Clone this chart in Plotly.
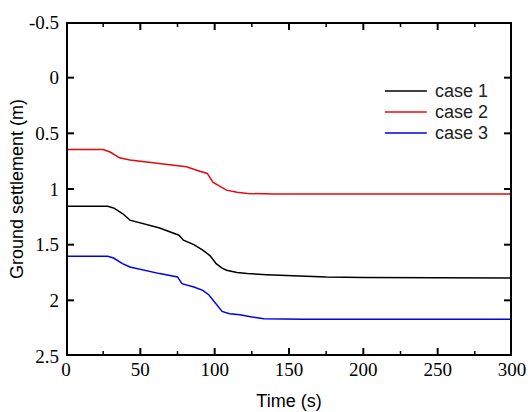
import plotly.graph_objects as go

# Data
time_case1 = [0, 28, 32, 38, 43, 55, 63, 76, 79, 86, 92, 97, 101, 105, 108, 115, 122, 135, 150, 175, 200, 250, 300]
case1 = [1.155, 1.155, 1.17, 1.22, 1.28, 1.32, 1.35, 1.415, 1.46, 1.50, 1.55, 1.60, 1.67, 1.71, 1.73, 1.75, 1.76, 1.77, 1.78, 1.79, 1.795, 1.80, 1.80]

time_case2 = [0, 25, 30, 36, 43, 55, 63, 81, 90, 95, 99, 104, 108, 115, 122, 140, 200, 300]
case2 = [0.645, 0.645, 0.67, 0.72, 0.74, 0.76, 0.77, 0.80, 0.84, 0.86, 0.94, 0.98, 1.01, 1.03, 1.04, 1.045, 1.045, 1.045]

time_case3 = [0, 28, 32, 38, 43, 55, 63, 75, 78, 86, 92, 96, 99, 102, 105, 110, 117, 125, 133, 160, 200, 300]
case3 = [1.605, 1.605, 1.62, 1.67, 1.70, 1.74, 1.76, 1.79, 1.85, 1.88, 1.91, 1.95, 2.00, 2.06, 2.10, 2.12, 2.13, 2.15, 2.165, 2.17, 2.17, 2.17]

series_names = ["case 1", "case 2", "case 3"]
series_colors = ["#000000", "#e8070a", "#0000ee"]

x_range = [0, 300]
y_range = [2.5, -0.5]          # reversed axis, as in the reference
x_ticks = [0, 50, 100, 150, 200, 250, 300]
x_minor_ticks = [25, 75, 125, 175, 225, 275]
y_ticks = [-0.5, 0, 0.5, 1, 1.5, 2, 2.5]
y_tick_labels = ["-0.5", "0", "0.5", "1", "1.5", "2", "2.5"]

# figure geometry
W, H = 528, 412
ML, MR, MT, MB = 66, 16, 22, 56
plot_w, plot_h = W - ML - MR, H - MT - MB
x_per_px = (x_range[1] - x_range[0]) / plot_w
y_per_px = (y_range[0] - y_range[1]) / plot_h

fig = go.Figure()
for t, v, name, col in zip([time_case1, time_case2, time_case3],
                           [case1, case2, case3], series_names, series_colors):
    fig.add_trace(go.Scatter(x=t, y=v, mode="lines", name=name, showlegend=False,
                             line=dict(color=col, width=1.5)))

# Plot frame (drawn along the axis limits; clipped half remains inside)
x0, x1 = x_range
yb, yt = y_range
fig.add_trace(go.Scatter(x=[x0, x1, x1, x0, x0], y=[yt, yt, yb, yb, yt], mode="lines",
                         line=dict(color="#000000", width=4), showlegend=False,
                         hoverinfo="skip"))

# Tick marks on all four sides (inside)
def x_tick_segments(vals, length_px):
    xs, ys = [], []
    d = length_px * y_per_px
    for v in vals:
        xs += [v, v, None, v, v, None]
        ys += [yb, yb - d, None, yt, yt + d, None]
    return xs, ys

def y_tick_segments(vals, length_px):
    xs, ys = [], []
    d = length_px * x_per_px
    for v in vals:
        xs += [x0, x0 + d, None, x1, x1 - d, None]
        ys += [v, v, None, v, v, None]
    return xs, ys

for (xs, ys), w in [(x_tick_segments(x_ticks, 8), 2), (x_tick_segments(x_minor_ticks, 5), 1.5),
                    (y_tick_segments(y_ticks, 8), 2)]:
    fig.add_trace(go.Scatter(x=xs, y=ys, mode="lines", line=dict(color="#000000", width=w),
                             showlegend=False, hoverinfo="skip", connectgaps=False))

fig.update_layout(
    width=W, height=H,
    margin=dict(l=ML, r=MR, t=MT, b=MB, autoexpand=False),
    showlegend=False,
    paper_bgcolor="#ffffff", plot_bgcolor="#ffffff",
    xaxis=dict(range=x_range, tickvals=x_ticks, showline=False, ticks="",
               showgrid=False, zeroline=False, automargin=False,
               tickfont=dict(family="Liberation Serif", size=19, color="#000000"),
               title=dict(text="Time (s)", standoff=15,
                          font=dict(family="Liberation Sans", size=18, color="#000000"))),
    yaxis=dict(range=y_range, tickvals=y_ticks, ticktext=y_tick_labels,
               showline=False, ticks="", ticklabelstandoff=6,
               showgrid=False, zeroline=False, automargin=False,
               tickfont=dict(family="Liberation Serif", size=19, color="#000000"),
               title=dict(text="Ground settlement (m)", standoff=0,
                          font=dict(family="Liberation Sans", size=18, color="#000000"))),
)

# Legend (key lines + text)
legend_rows_y = [0.7934, 0.7305, 0.6677]
for name, col, ly in zip(series_names, series_colors, legend_rows_y):
    fig.add_shape(type="line", xref="paper", yref="paper", x0=0.715, x1=0.809, y0=ly, y1=ly,
                  line=dict(color=col, width=1.5))
    fig.add_annotation(text=name, xref="paper", yref="paper", x=0.823, y=ly,
                       xanchor="left", yanchor="middle", showarrow=False,
                       font=dict(family="Liberation Sans", size=18, color="#222222"))

fig.write_html("out.html", config={"displayModeBar": False},
               post_script="document.body.style.margin='0';")
